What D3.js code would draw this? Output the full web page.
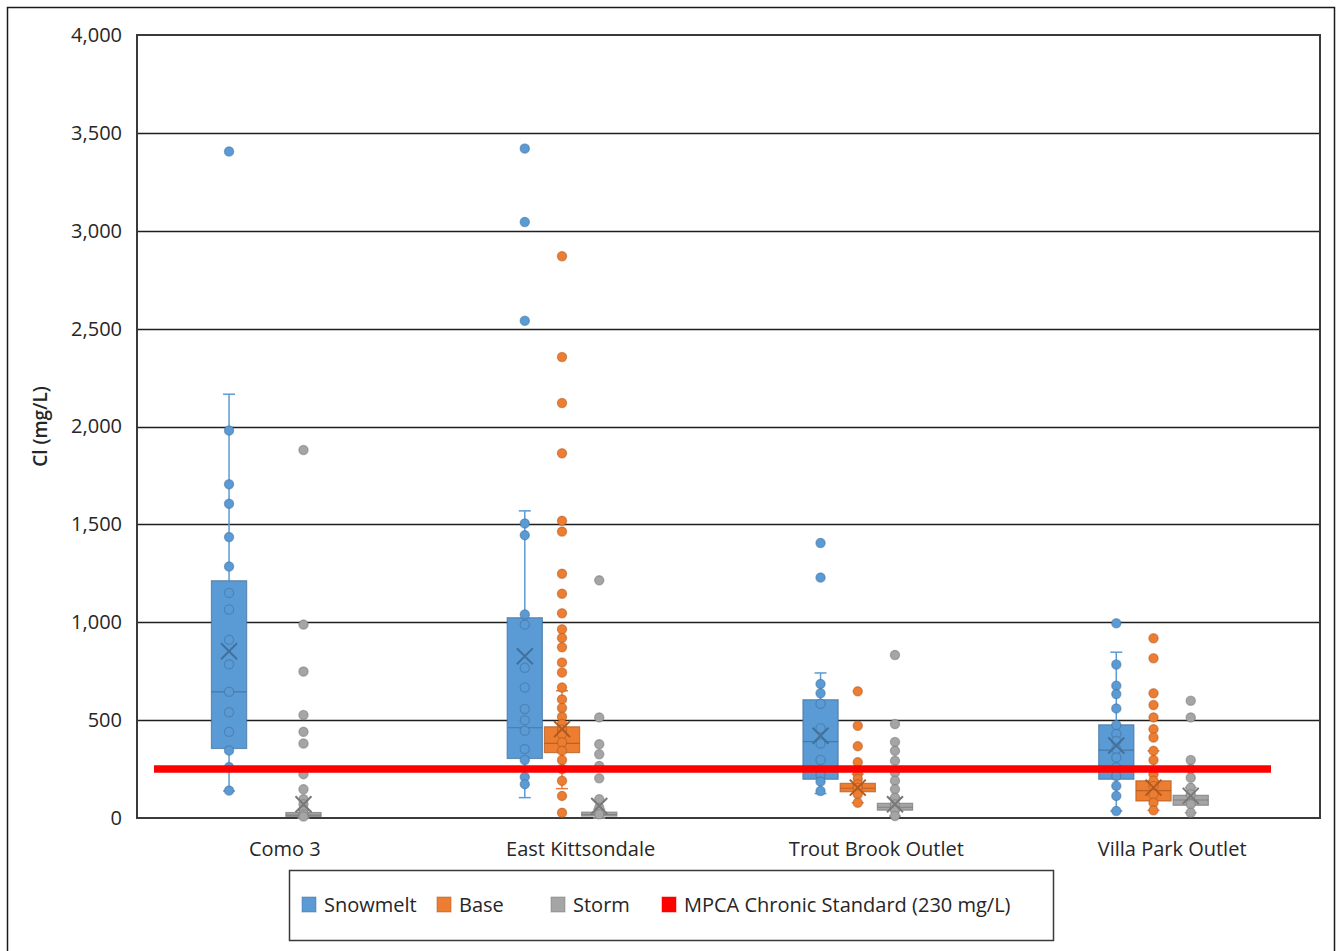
<!DOCTYPE html>
<html>
<head>
<meta charset="utf-8">
<script src="https://cdn.jsdelivr.net/npm/d3@7"></script>
<style>
  body { margin: 0; background: #fff; }
  text { font-family: "Open Sans", "Noto Sans", sans-serif; fill: #262626; }
</style>
</head>
<body>
<div id="chart"></div>
<script>
width = 1336;
height = 951;
chart_margins = {left: 137, right: 16, top: 35, bottom: 133};

// categories and series
categories = ["Como 3", "East Kittsondale", "Trout Brook Outlet", "Villa Park Outlet"];
seriesNames = ["Snowmelt", "Base", "Storm"];
slotNames = ["Snowmelt", "Base", "Storm", "MPCA"];
yTicks = [0, 500, 1000, 1500, 2000, 2500, 3000, 3500, 4000];

// raw points per category (mg/L)
snowmeltPoints = [
  [3405, 1980, 1705, 1605, 1435, 1285, 1150, 1065, 910, 785, 645, 540, 440, 345, 260, 140],
  [3420, 3045, 2540, 1505, 1445, 1040, 988, 767, 667, 557, 500, 446, 352, 296, 210, 173],
  [1405, 1228, 685, 637, 584, 459, 381, 296, 220, 186, 138],
  [995, 784, 676, 633, 560, 475, 429, 394, 352, 309, 258, 215, 164, 113, 36]
];
basePoints = [
  [],
  [2870, 2355, 2120, 1863, 1518, 1463, 1248, 1146, 1046, 964, 920, 872, 794, 743, 667, 606, 562, 517, 480, 452, 429, 386, 343, 296, 250, 190, 113, 27],
  [647, 471, 367, 285, 245, 224, 200, 173, 155, 121, 78],
  [918, 816, 637, 577, 514, 454, 411, 343, 296, 224, 190, 164, 121, 78, 39]
];
stormPoints = [
  [1880, 988, 748, 526, 440, 381, 224, 147, 96, 70, 36, 19, 8],
  [1214, 514, 377, 326, 266, 203, 96, 53, 19],
  [833, 480, 388, 343, 292, 232, 190, 147, 104, 70, 40, 10],
  [599, 514, 296, 250, 206, 155, 121, 70, 27]
];

// box statistics (null = no box)
snowmeltQ1     = [355, 304, 198, 198];
snowmeltMedian = [644, 461, 390, 347];
snowmeltQ3     = [1212, 1023, 604, 476];
snowmeltLow    = [138, 104, 125, 36];
snowmeltHigh   = [2165, 1569, 741, 847];
snowmeltMean   = [852, 826, 420, 370];

baseQ1     = [null, 334, 134, 87];
baseMedian = [null, 381, 152, 140];
baseQ3     = [null, 466, 177, 190];
baseLow    = [null, 150, 78, 39];
baseHigh   = [null, 650, 224, 343];
baseMean   = [null, 454, 155, 155];

stormQ1     = [8, 10, 40, 65];
stormMedian = [15, 18, 55, 92];
stormQ3     = [28, 30, 75, 116];
stormLow    = [0, 0, 10, 27];
stormHigh   = [40, 45, 104, 155];
stormMean   = [70, 61, 70, 113];

mpcaLineValue = 250;
legendLabels = ["Snowmelt", "Base", "Storm", "MPCA Chronic Standard (230 mg/L)"];

colors = {
  Snowmelt: {fill: "#5B9BD5", dark: "#41719C"},
  Base: {fill: "#ED7D31", dark: "#AE5A21"},
  Storm: {fill: "#A5A5A5", dark: "#787878"}
};

seriesData = {
  Snowmelt: {points: snowmeltPoints, q1: snowmeltQ1, med: snowmeltMedian, q3: snowmeltQ3, low: snowmeltLow, high: snowmeltHigh, mean: snowmeltMean},
  Base: {points: basePoints, q1: baseQ1, med: baseMedian, q3: baseQ3, low: baseLow, high: baseHigh, mean: baseMean},
  Storm: {points: stormPoints, q1: stormQ1, med: stormMedian, q3: stormQ3, low: stormLow, high: stormHigh, mean: stormMean}
};

var svg = d3.select("#chart").append("svg")
    .attr("width", width)
    .attr("height", height);

// outer chart frame
svg.append("rect")
    .attr("x", 7.5).attr("y", 7.5)
    .attr("width", 1327).attr("height", 970)
    .attr("fill", "#fff").attr("stroke", "#1a1a1a").attr("stroke-width", 1.5);

var plotLeft = chart_margins.left, plotRight = width - chart_margins.right;
var plotTop = chart_margins.top, plotBottom = height - chart_margins.bottom;

var x0 = d3.scaleBand().domain(categories).range([plotLeft, plotRight]).padding(0);
var x1 = d3.scaleBand().domain(slotNames).range([0, x0.bandwidth()])
    .paddingInner(0.054).paddingOuter(2);
var y = d3.scaleLinear().domain([0, 4000]).range([plotBottom, plotTop]);

// gridlines
svg.append("g")
    .selectAll("line")
    .data(yTicks.filter(d => d > 0 && d < 4000))
    .enter().append("line")
    .attr("x1", plotLeft).attr("x2", plotRight)
    .attr("y1", d => Math.round(y(d)) + 0.5).attr("y2", d => Math.round(y(d)) + 0.5)
    .attr("stroke", "#1f1f1f").attr("stroke-width", 1.4);

// plot border
svg.append("rect")
    .attr("x", plotLeft).attr("y", plotTop)
    .attr("width", plotRight - plotLeft).attr("height", plotBottom - plotTop)
    .attr("fill", "none").attr("stroke", "#3a3a3a").attr("stroke-width", 2);

// y axis labels
var yAxis = d3.axisLeft(y).tickValues(yTicks).tickSize(0).tickPadding(15)
    .tickFormat(d3.format(","));
svg.append("g")
    .attr("transform", "translate(" + plotLeft + ",0)")
    .call(yAxis)
    .call(g => g.select(".domain").remove())
    .selectAll("text")
    .style("font-size", "20px")
    .style("font-family", "Open Sans, Noto Sans, sans-serif")
    .attr("fill", "#262626");

svg.append("text")
    .attr("transform", "translate(47," + ((plotTop + plotBottom) / 2) + ") rotate(-90)")
    .attr("text-anchor", "middle")
    .style("font-size", "19px")
    .style("font-weight", "600")
    .text("Cl (mg/L)");

// x labels
var xAxis = d3.axisBottom(x0).tickSize(0).tickPadding(24);
svg.append("g")
    .attr("transform", "translate(0," + plotBottom + ")")
    .call(xAxis)
    .call(g => g.select(".domain").remove())
    .selectAll("text")
    .style("font-size", "20px")
    .style("font-family", "Open Sans, Noto Sans, sans-serif")
    .attr("fill", "#262626");

// boxes
seriesNames.forEach(function(s) {
    var sd = seriesData[s];
    var c = colors[s];
    var g = svg.append("g").attr("class", "series-" + s);
    categories.forEach(function(cat, i) {
        var cx = x0(cat) + x1(s) + x1.bandwidth() / 2;
        var bw = x1.bandwidth();
        if (sd.q1[i] !== null) {
            // whiskers
            g.append("line")
                .attr("x1", cx).attr("x2", cx)
                .attr("y1", y(sd.q3[i])).attr("y2", y(sd.high[i]))
                .attr("stroke", c.fill).attr("stroke-width", 1.5);
            g.append("line")
                .attr("x1", cx).attr("x2", cx)
                .attr("y1", y(sd.q1[i])).attr("y2", y(sd.low[i]))
                .attr("stroke", c.fill).attr("stroke-width", 1.5);
            [sd.high[i], sd.low[i]].forEach(function(v) {
                g.append("line")
                    .attr("x1", cx - 6).attr("x2", cx + 6)
                    .attr("y1", y(v)).attr("y2", y(v))
                    .attr("stroke", c.fill).attr("stroke-width", 1.5);
            });
            // box
            var h = Math.max(y(sd.q1[i]) - y(sd.q3[i]), 3);
            g.append("rect")
                .attr("x", cx - bw / 2).attr("y", y(sd.q3[i]))
                .attr("width", bw).attr("height", h)
                .attr("fill", c.fill).attr("stroke", c.dark)
                .attr("stroke-opacity", 0.7).attr("stroke-width", 1.2);
            g.append("line")
                .attr("x1", cx - bw / 2).attr("x2", cx + bw / 2)
                .attr("y1", y(sd.med[i])).attr("y2", y(sd.med[i]))
                .attr("stroke", c.dark).attr("stroke-opacity", 0.8).attr("stroke-width", 1.2);
        }
        // points
        g.selectAll("circle.p" + i)
            .data(sd.points[i])
            .enter().append("circle")
            .attr("class", "p" + i)
            .attr("cx", cx)
            .attr("cy", d => y(d))
            .attr("r", 4.6)
            .attr("fill", c.fill)
            .attr("stroke", c.dark)
            .attr("stroke-opacity", 0.55)
            .attr("stroke-width", 1.3);
        // mean marker
        if (sd.mean[i] !== null) {
            var my = y(sd.mean[i]);
            g.append("path")
                .attr("d", "M" + (cx - 8) + "," + (my - 8) + "L" + (cx + 8) + "," + (my + 8) +
                           "M" + (cx - 8) + "," + (my + 8) + "L" + (cx + 8) + "," + (my - 8))
                .attr("stroke", c.dark).attr("stroke-width", 2).attr("fill", "none");
        }
    });
});

// MPCA standard line
svg.append("line")
    .attr("x1", plotLeft + 17).attr("x2", plotRight - 49)
    .attr("y1", y(mpcaLineValue)).attr("y2", y(mpcaLineValue))
    .attr("stroke", "#FF0000").attr("stroke-width", 7.5);

// legend
var legend = svg.append("g");
legend.append("rect")
    .attr("x", 289.5).attr("y", 870.5)
    .attr("width", 764).attr("height", 70)
    .attr("fill", "#fff").attr("stroke", "#3a3a3a").attr("stroke-width", 1.5);

var legendColors = [colors.Snowmelt.fill, colors.Base.fill, colors.Storm.fill, "#FF0000"];
var legendStroke = [colors.Snowmelt.dark, colors.Base.dark, colors.Storm.dark, "#FF0000"];
var legendX = [302, 437, 551, 662];
legendLabels.forEach(function(lbl, i) {
    legend.append("rect")
        .attr("x", legendX[i]).attr("y", 897)
        .attr("width", 14).attr("height", 15)
        .attr("fill", legendColors[i]).attr("stroke", legendStroke[i])
        .attr("stroke-opacity", 0.5).attr("stroke-width", 1);
    legend.append("text")
        .attr("x", legendX[i] + 22).attr("y", 912)
        .style("font-size", "20px")
        .text(lbl);
});
</script>
</body>
</html>
